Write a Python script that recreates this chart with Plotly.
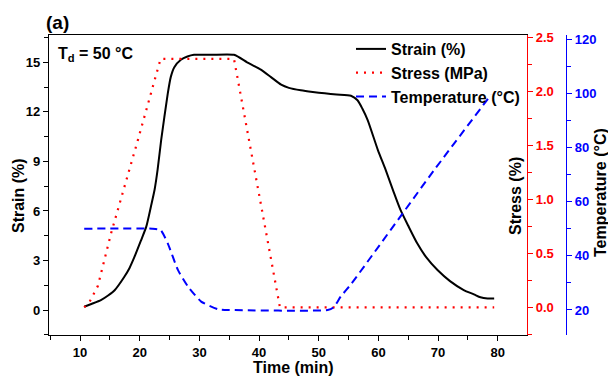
import plotly.graph_objects as go

# ---- data ----
t_strain = [10.7, 12.0, 13.5, 14.7, 15.8, 17.4, 18.3, 19.1, 20.2, 21.1, 21.9, 22.5, 23.0, 23.6,
            24.7, 25.2, 25.8, 26.9, 28.0, 29.1, 32.0, 35.8, 38.0, 40.3, 42.0, 43.7, 45.0, 47.0,
            49.0, 51.0, 53.0, 55.4, 56.5, 57.3, 58.2, 59.9, 61.2, 62.5, 63.7, 65.0, 66.5, 68.0,
            69.9, 72.0, 74.3, 76.0, 77.1, 78.3, 79.4]
strain = [0.2, 0.38, 0.6, 0.88, 1.2, 2.0, 2.55, 3.2, 4.2, 5.05, 6.3, 7.3, 8.5, 10.3,
          13.1, 14.1, 14.7, 15.15, 15.35, 15.45, 15.45, 15.45, 15.0, 14.55, 14.1, 13.64, 13.45, 13.3,
          13.2, 13.12, 13.05, 12.97, 12.7, 12.2, 11.5, 9.7, 8.5, 7.2, 6.06, 5.1, 4.04, 3.2,
          2.42, 1.75, 1.21, 0.95, 0.77, 0.7, 0.7]

t_stress = [10.7, 11.6, 13.0, 15.2, 19.7, 23.5, 35.8, 39.7, 43.5, 79.4]
stress = [0.0, 0.05, 0.2, 0.685, 1.55, 2.3, 2.3, 1.15, 0.0, 0.0]

t_temp = [10.7, 22.1, 23.5, 24.7, 26.4, 28.1, 30.3, 33.1, 35.0, 51.5, 52.5, 53.7, 55.4, 69.3, 78.9]
temp = [50.0, 50.0, 49.5, 44.6, 34.8, 28.6, 23.1, 20.3, 20.0, 20.0, 21.0, 25.0, 29.5, 71.5, 99.5]

x_ticks = [10, 20, 30, 40, 50, 60, 70, 80]
strain_ticks = [0, 3, 6, 9, 12, 15]
stress_ticks = [0.0, 0.5, 1.0, 1.5, 2.0, 2.5]
temp_ticks = [20, 40, 60, 80, 100, 120]

FONT = "Liberation Sans, Arial, sans-serif"
W, H = 608, 376
ML, MR, MT, MB = 49, 42, 35, 41
PW = W - ML - MR
PH = H - MT - MB


def px(xp):
    return (xp - ML) / PW


def py(yp):
    return (H - MB - yp) / PH


fig = go.Figure()
fig.add_trace(go.Scatter(x=t_strain, y=strain, name="Strain (%)", mode="lines",
                         line=dict(color="black", width=2, shape="spline", smoothing=0.6),
                         yaxis="y"))
fig.add_trace(go.Scatter(x=t_stress, y=stress, name="Stress (MPa)", mode="lines",
                         line=dict(color="#ff0000", width=2.2, dash="2px,6px"), yaxis="y2"))
fig.add_trace(go.Scatter(x=t_temp, y=temp, name="Temperature (°C)", mode="lines",
                         line=dict(color="#0000ff", width=2, dash="8px,5px",
                                   shape="spline", smoothing=0.5),
                         yaxis="y3"))

tickfont = dict(family=FONT, size=13, weight="bold")

fig.update_layout(
    width=W, height=H,
    margin=dict(l=ML, r=MR, t=MT, b=MB, pad=0),
    paper_bgcolor="white", plot_bgcolor="white",
    font=dict(family=FONT, size=13, color="black"),
    showlegend=True,
    legend=dict(x=px(351), y=py(32), xanchor="left", yanchor="top",
                bgcolor="rgba(0,0,0,0)", borderwidth=0,
                font=dict(family=FONT, size=16, weight="bold", color="black"),
                tracegroupgap=0),
    xaxis=dict(domain=[0, (527 - ML) / PW], range=[4.8, 84.9],
               tickvals=x_ticks, ticks="outside", ticklen=5, tickwidth=1.3,
               tickcolor="black", showline=True, linecolor="black", linewidth=1.3,
               mirror=True, showgrid=False, zeroline=False, tickfont=tickfont,
               minor=dict(tick0=5, dtick=10, ticks="outside", ticklen=4,
                          tickwidth=1.3, tickcolor="black")),
    yaxis=dict(range=[-1.51, 16.65], tickvals=strain_ticks, ticks="outside",
               ticklen=5, tickwidth=1.3, tickcolor="black", showline=True,
               linecolor="black", linewidth=1.3, showgrid=False, zeroline=False,
               tickfont=tickfont,
               minor=dict(tick0=1.5, dtick=3, ticks="outside", ticklen=4,
                          tickwidth=1.3, tickcolor="black")),
    yaxis2=dict(range=[-0.256, 2.521], overlaying="y", side="right", anchor="x",
                tickvals=stress_ticks, tickformat=".1f", ticks="outside", ticklen=5,
                tickwidth=1.3, tickcolor="#ff0000", showline=True,
                linecolor="#ff0000", linewidth=1.3, showgrid=False, zeroline=False,
                tickfont=dict(family=FONT, size=13, weight="bold", color="#ff0000"),
                minor=dict(tick0=0.25, dtick=0.5, ticks="outside", ticklen=4,
                           tickwidth=1.3, tickcolor="#ff0000")),
    yaxis3=dict(range=[10.77, 121.48], overlaying="y", side="right", anchor="free",
                position=1.0, tickvals=temp_ticks, ticks="outside", ticklen=5,
                tickwidth=1.3, tickcolor="#0000ff", showline=True,
                linecolor="#0000ff", linewidth=1.3, showgrid=False, zeroline=False,
                tickfont=dict(family=FONT, size=13, weight="bold", color="#0000ff"),
                minor=dict(tick0=10, dtick=20, ticks="outside", ticklen=4,
                           tickwidth=1.3, tickcolor="#0000ff")),
)

ann_font = dict(family=FONT, size=16, weight="bold", color="black")
fig.add_annotation(x=px(293), y=py(367), xref="paper", yref="paper", text="Time (min)",
                   showarrow=False, font=ann_font, xanchor="center", yanchor="middle")
fig.add_annotation(x=px(18), y=py(196), xref="paper", yref="paper", text="Strain (%)",
                   showarrow=False, font=ann_font, textangle=-90,
                   xanchor="center", yanchor="middle")
fig.add_annotation(x=px(515), y=py(196), xref="paper", yref="paper", text="Stress (%)",
                   showarrow=False, font=ann_font, textangle=-90,
                   xanchor="center", yanchor="middle")
fig.add_annotation(x=px(601), y=py(193), xref="paper", yref="paper",
                   text="Temperature (°C)", showarrow=False, font=ann_font,
                   textangle=-90, xanchor="center", yanchor="middle")
fig.add_annotation(x=px(44), y=py(22), xref="paper", yref="paper", text="(a)",
                   showarrow=False, font=dict(family=FONT, size=19, weight="bold", color="black"),
                   xanchor="left", yanchor="middle")
fig.add_annotation(x=px(56), y=py(54), xref="paper", yref="paper",
                   text="T<sub>d</sub> = 50 °C", showarrow=False, font=ann_font,
                   xanchor="left", yanchor="middle")

fig.write_html("out.html")
